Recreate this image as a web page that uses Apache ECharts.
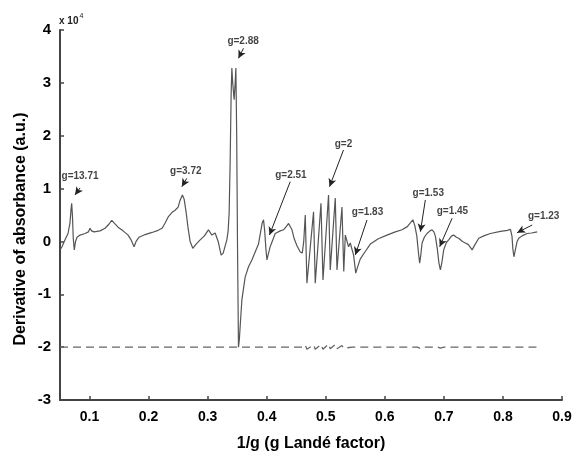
<!DOCTYPE html>
<html><head><meta charset="utf-8">
<script src="https://cdn.jsdelivr.net/npm/echarts@6/dist/echarts.min.js"></script>
<style>html,body{margin:0;padding:0;background:#fff}#c{width:574px;height:453px}</style>
</head><body><div id="c"></div>
<script>
// Main EPR derivative spectrum (x: 1/g, y: x10^4 a.u.)
const curveX = [0.0500,0.0534,0.0585,0.0636,0.0669,0.0686,0.0698,0.0712,0.0725,0.0742,0.0763,0.0788,0.0839,0.0924,0.0980,0.1008,0.1034,0.1076,0.1178,0.1263,0.1331,0.1376,0.1415,0.1483,0.1568,0.1653,0.1703,0.1754,0.1788,0.1839,0.1941,0.2059,0.2161,0.2229,0.2280,0.2336,0.2398,0.2449,0.2500,0.2534,0.2573,0.2602,0.2636,0.2669,0.2703,0.2749,0.2805,0.2873,0.2941,0.3014,0.3071,0.3127,0.3178,0.3229,0.3263,0.3325,0.3347,0.3364,0.3381,0.3398,0.3410,0.3424,0.3449,0.3466,0.3478,0.3492,0.3505,0.3522,0.3537,0.3551,0.3580,0.3636,0.3692,0.3749,0.3805,0.3861,0.3890,0.3924,0.3946,0.3966,0.3987,0.4004,0.4025,0.4059,0.4144,0.4229,0.4285,0.4331,0.4370,0.4428,0.4466,0.4512,0.4568,0.4602,0.4627,0.4653,0.4681,0.4793,0.4822,0.4919,0.4953,0.5047,0.5076,0.5161,0.5190,0.5274,0.5305,0.5331,0.5386,0.5415,0.5471,0.5508,0.5534,0.5585,0.5669,0.5754,0.5890,0.6037,0.6178,0.6291,0.6381,0.6432,0.6475,0.6508,0.6542,0.6568,0.6590,0.6610,0.6631,0.6669,0.6715,0.6763,0.6800,0.6831,0.6856,0.6890,0.6915,0.6941,0.6966,0.6997,0.7042,0.7081,0.7127,0.7166,0.7212,0.7251,0.7314,0.7364,0.7415,0.7478,0.7517,0.7590,0.7686,0.7788,0.7958,0.8076,0.8127,0.8153,0.8169,0.8186,0.8212,0.8240,0.8268,0.8331,0.8410,0.8483,0.8580];
const curveY = [-0.16,-0.10,0.03,0.15,0.35,0.60,0.72,0.45,0.05,-0.16,0.00,0.08,0.12,0.15,0.18,0.25,0.20,0.18,0.20,0.25,0.33,0.40,0.35,0.27,0.20,0.12,0.03,-0.10,0.00,0.08,0.13,0.17,0.21,0.25,0.35,0.47,0.55,0.59,0.65,0.78,0.88,0.80,0.55,0.25,0.00,-0.13,-0.05,0.03,0.10,0.22,0.12,0.16,0.00,-0.26,-0.22,0.03,0.20,0.54,1.50,2.80,3.28,3.00,2.68,3.00,3.28,2.00,0.00,-2.00,-1.85,-1.60,-1.10,-0.67,-0.48,-0.35,-0.20,-0.05,0.14,0.35,0.41,0.20,-0.15,-0.35,-0.25,-0.10,0.15,0.20,0.22,0.28,0.34,0.22,0.05,-0.08,-0.20,-0.22,0.00,0.50,-0.79,0.56,-0.79,0.72,-0.73,0.88,-0.54,0.82,-0.54,0.65,-0.57,0.12,-0.10,-0.03,-0.26,-0.60,-0.50,-0.33,-0.19,-0.05,0.05,0.12,0.18,0.22,0.28,0.35,0.41,0.30,0.10,-0.20,-0.41,-0.25,-0.03,0.08,0.15,0.20,0.22,0.18,0.10,-0.15,-0.40,-0.54,-0.40,-0.16,-0.02,0.03,0.10,0.12,0.08,0.06,0.00,-0.03,-0.06,-0.16,-0.08,0.06,0.11,0.15,0.19,0.21,0.23,0.10,-0.15,-0.29,-0.15,0.00,0.06,0.11,0.15,0.16,0.18];

// Dashed reference trace near -2
const baseX = [0.05,0.335,0.338,0.342,0.352,0.46,0.4653,0.4681,0.4793,0.4822,0.4919,0.4953,0.5047,0.5076,0.5161,0.5190,0.5274,0.5305,0.545,0.60,0.655,0.659,0.663,0.69,0.694,0.70,0.858];
const baseY = [-2,-2,-1.97,-2,-2,-2,-1.96,-2.04,-1.96,-2.04,-1.95,-2.04,-1.94,-2.03,-1.95,-2.03,-1.97,-2.02,-2,-2,-2,-2.02,-2,-2,-2.02,-2,-2];

// Annotations
const annoLabels = ['g=13.71','g=3.72','g=2.88','g=2.51','g=2','g=1.83','g=1.53','g=1.45','g=1.23'];
const annoLabelX = [0.0839,0.2630,0.3600,0.4410,0.5300,0.5707,0.6735,0.7144,0.8690];
const annoLabelY = [1.225,1.32,3.78,1.257,1.83,0.544,0.911,0.563,0.481];
const arrowTailX = [0.0839,0.2647,0.3607,0.4398,0.5300,0.5698,0.6686,0.7139,0.8495];
const arrowTailY = [1.011,1.194,3.654,1.130,1.73,0.406,0.784,0.438,0.311];
const arrowHeadX = [0.0754,0.2563,0.3522,0.4047,0.5064,0.5500,0.6602,0.6929,0.8240];
const arrowHeadY = [0.879,1.036,3.465,0.122,1.036,-0.256,0.184,-0.100,0.165];

const xTicks = [0.1,0.2,0.3,0.4,0.5,0.6,0.7,0.8,0.9];

const font = 'Liberation Sans, Arial, sans-serif';
const axisColor = '#444';

const chart = echarts.init(document.getElementById('c'));
const mainData = curveX.map((x,i)=>[x,curveY[i]]);
const baseData = baseX.map((x,i)=>[x,baseY[i]]);
const arrows = annoLabels.map((n,i)=>[
  {coord:[arrowTailX[i],arrowTailY[i]], symbol:'none'},
  {coord:[arrowHeadX[i],arrowHeadY[i]], symbol:'arrow'}
]);
const labelData = annoLabels.map((n,i)=>({name:n, value:[annoLabelX[i],annoLabelY[i]]}));

chart.setOption({
  animation:false,
  backgroundColor:'#fff',
  grid:{left:60,right:12,top:30,bottom:53,containLabel:false,outerBoundsMode:'none'},
  xAxis:{
    type:'value', min:0.05, max:0.9,
    name:'1/g (g Landé factor)', nameLocation:'middle', nameGap:36,
    nameTextStyle:{fontFamily:font,fontWeight:'bold',fontSize:16,color:'#000'},
    axisLine:{show:true,onZero:false,lineStyle:{color:axisColor,width:2}},
    axisTick:{show:true,inside:true,length:4,customValues:xTicks,lineStyle:{color:axisColor,width:1.5}},
    axisLabel:{customValues:xTicks,fontFamily:font,fontWeight:'bold',fontSize:14,color:'#000',margin:10,
      formatter:v=>v.toFixed(1)},
    splitLine:{show:false}
  },
  yAxis:{
    type:'value', min:-3, max:4, interval:1,
    axisLine:{show:true,onZero:false,lineStyle:{color:axisColor,width:2}},
    axisTick:{show:true,inside:true,length:4,lineStyle:{color:axisColor,width:1.5}},
    axisLabel:{fontFamily:font,fontWeight:'bold',fontSize:15,color:'#000',margin:9},
    splitLine:{show:false}
  },
  graphic:[
    {type:'text',left:59,top:13,style:{
      text:'{a|x 10}{b|4}',
      rich:{a:{fontFamily:font,fontSize:10,fontWeight:'bold',fill:'#222',padding:[6,0,0,0]},
            b:{fontFamily:font,fontSize:7,fill:'#222',padding:[0,0,4,1]}}
    }},
    {type:'text',x:21,y:229,rotation:Math.PI/2,style:{
      text:'Derivative of absorbance (a.u.)',fontFamily:font,fontWeight:'bold',fontSize:16,fill:'#000',
      align:'center',verticalAlign:'middle'}}
  ],
  series:[
    {type:'line',data:baseData,showSymbol:false,symbol:'none',
     lineStyle:{color:'#666',width:1.3,type:[8,5]},z:2},
    {type:'line',data:mainData,showSymbol:false,symbol:'none',
     lineStyle:{color:'#555',width:1.2},z:3,
     markLine:{silent:true,symbolSize:[6,8],label:{show:false},
       lineStyle:{color:'#222',width:1,type:'solid'},data:arrows,animation:false}},
    {type:'scatter',data:labelData,symbolSize:0.1,z:5,silent:true,
     label:{show:true,position:'inside',formatter:'{b}',fontFamily:font,fontWeight:'bold',fontSize:10,color:'#111'}}
  ]
});
</script></body></html>
